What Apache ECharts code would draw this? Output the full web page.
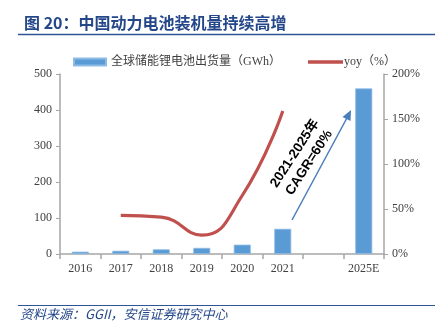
<!DOCTYPE html>
<html>
<head>
<meta charset="utf-8">
<script src="https://cdn.jsdelivr.net/npm/echarts@6/dist/echarts.min.js"></script>
<style>
  html, body { margin: 0; padding: 0; background: #fff; }
  #chart { width: 448px; height: 329px; }
</style>
</head>
<body>
<div id="chart"></div>
<script>
// Categories (blank slot keeps the gap before the 2025 estimate)
const categories = ['2016', '2017', '2018', '2019', '2020', '2021', '', '2025E'];
// Shipments, GWh
const shipments = [6.5, 9, 13, 17, 26, 70, null, 460];
// Year-on-year growth, %
const yoy = [null, 43, 41, 21, 65, 159, null, null];

const serif = '"Liberation Serif", "Noto Sans CJK SC", serif';
const axisGray = '#A6A6A6';
const labelColor = '#404040';
const barName = '全球储能锂电池出货量（GWh）';
const lineName = 'yoy（%）';

const chart = echarts.init(document.getElementById('chart'), null, { renderer: 'canvas' });

chart.setOption({
  backgroundColor: '#ffffff',
  animation: false,
  title: {
    text: '图 20：中国动力电池装机量持续高增',
    left: 19,
    top: 10,
    textStyle: {
      fontFamily: '"Noto Sans CJK SC", sans-serif',
      fontSize: 16,
      fontWeight: 'bold',
      color: '#24478A'
    }
  },
  legend: [
    {
      left: 68,
      top: 51,
      itemWidth: 32,
      itemHeight: 7,
      textStyle: { fontFamily: serif, fontSize: 12, color: labelColor },
      data: [{ name: barName, icon: 'rect' }]
    },
    {
      left: 303,
      top: 51,
      itemWidth: 35,
      itemHeight: 3.5,
      itemGap: 0,
      textStyle: { fontFamily: serif, fontSize: 12, color: labelColor, padding: [0, 0, 0, -4] },
      data: [{ name: lineName, icon: 'rect' }]
    }
  ],
  grid: { left: 60, right: 64, top: 74, bottom: 75 },
  xAxis: {
    type: 'category',
    data: categories,
    axisLine: { lineStyle: { color: axisGray, width: 1.5 } },
    axisTick: { show: true, length: 5, interval: 0, lineStyle: { color: axisGray, width: 1.5 } },
    axisLabel: { fontFamily: serif, fontSize: 12, color: labelColor, margin: 9, interval: 0 }
  },
  yAxis: [
    {
      type: 'value',
      min: 0, max: 500, interval: 100,
      splitLine: { show: false },
      axisLine: { show: true, lineStyle: { color: axisGray, width: 1.5 } },
      axisTick: { show: true, length: 4, lineStyle: { color: axisGray } },
      axisLabel: { fontFamily: serif, fontSize: 12, color: labelColor, margin: 8 }
    },
    {
      type: 'value',
      min: 0, max: 200, interval: 50,
      splitLine: { show: false },
      axisLine: { show: true, lineStyle: { color: axisGray, width: 1.5 } },
      axisTick: { show: true, length: 4, lineStyle: { color: axisGray } },
      axisLabel: { fontFamily: serif, fontSize: 12, color: labelColor, margin: 8, formatter: '{value}%' }
    }
  ],
  series: [
    {
      name: barName,
      type: 'bar',
      data: shipments,
      barWidth: 17,
      itemStyle: { color: '#5B9BD5', borderColor: '#8DBBE6', borderWidth: 0.8 }
    },
    {
      name: lineName,
      type: 'line',
      yAxisIndex: 1,
      data: yoy,
      smooth: 0.5,
      symbol: 'none',
      connectNulls: false,
      lineStyle: { color: '#C0504D', width: 3.2 },
      itemStyle: { color: '#C0504D' }
    }
  ],
  graphic: [
    // rule under the heading
    { type: 'line', shape: { x1: 18, y1: 34.5, x2: 435, y2: 34.5 }, style: { stroke: '#2F5597', lineWidth: 1.5 } },
    // rule above the source note
    { type: 'line', shape: { x1: 18, y1: 305.5, x2: 435, y2: 305.5 }, style: { stroke: '#2F5597', lineWidth: 1.2 } },
    {
      type: 'text', left: 20, top: 308,
      style: {
        text: '资料来源：GGII，安信证券研究中心',
        font: 'italic 13px "Noto Sans CJK SC", sans-serif',
        fill: '#24478A'
      }
    },
    // growth arrow
    { type: 'line', shape: { x1: 292, y1: 220, x2: 348, y2: 116 }, style: { stroke: '#4A7EBB', lineWidth: 1.5 } },
    {
      type: 'polygon',
      shape: { points: [[351, 110], [342.5, 117], [350.5, 121]] },
      style: { fill: '#4A7EBB' }
    },
    {
      type: 'text',
      x: 302, y: 158,
      rotation: 57 * Math.PI / 180,
      style: {
        text: '2021-2025年\nCAGR=60%',
        font: 'bold 13.5px "Liberation Sans", "Noto Sans CJK SC", sans-serif',
        fill: '#000',
        align: 'center',
        verticalAlign: 'middle',
        lineHeight: 17
      }
    }
  ]
});
</script>
</body>
</html>
